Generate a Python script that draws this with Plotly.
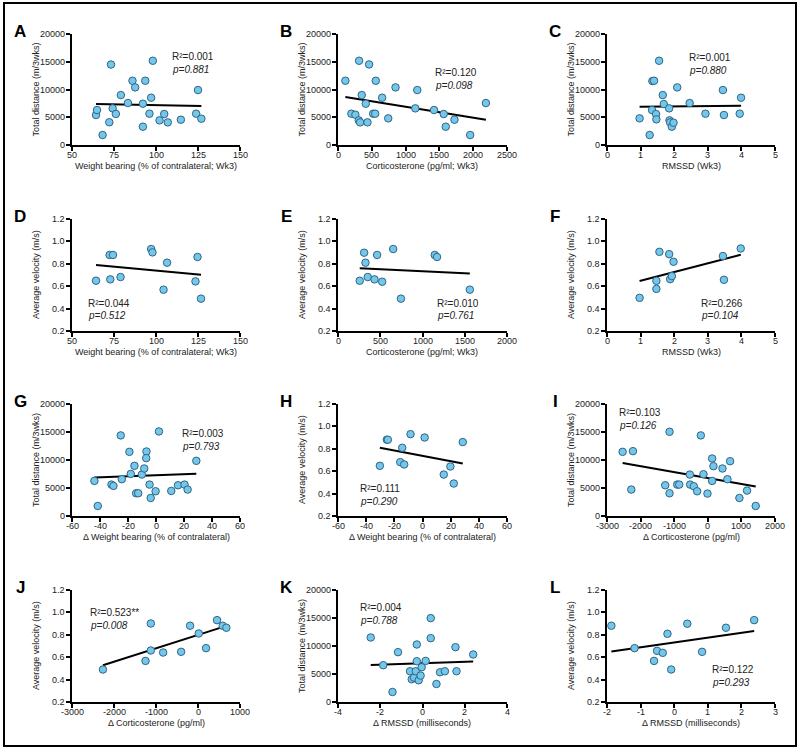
import numpy as np
import plotly.graph_objects as go

W, H = 800, 749

# ---------------- data ----------------
A_x = [64.3, 64.9, 73.2, 72.2, 68.2, 74.2, 76.1, 79.1, 83.3, 86.0, 87.6, 92.2, 93.6, 92.2, 96.1, 97.1, 98.1, 102.1, 104.9, 107.0, 114.8, 123.9, 125.0, 127.0]
A_y = [5400, 6300, 14500, 4100, 1800, 6600, 5600, 9000, 7560, 11580, 10380, 7440, 11580, 3300, 5640, 8520, 15180, 4440, 5580, 4080, 4560, 5640, 9900, 4740]

B_x = [109, 312, 460, 198, 257, 307, 327, 351, 411, 436, 559, 520, 550, 653, 743, 851, 1144, 1173, 1421, 1564, 1594, 1723, 1955, 2188]
B_y = [11580, 15180, 14520, 5640, 5460, 4440, 4080, 9000, 7440, 4080, 11580, 5640, 5640, 8520, 4800, 10380, 6600, 9900, 6300, 5580, 3300, 4560, 1800, 7560]

C_x = [0.97, 1.27, 1.34, 1.35, 1.40, 1.46, 1.47, 1.55, 1.66, 1.69, 1.85, 1.86, 1.88, 1.93, 1.98, 2.09, 2.46, 2.93, 3.45, 3.48, 3.95, 3.99]
C_y = [4800, 1800, 6300, 11520, 11580, 5580, 4620, 15180, 9000, 7380, 6600, 4440, 4080, 3300, 4020, 10380, 7560, 5640, 9900, 5400, 5640, 8520]

D_x = [64.3, 72.4, 74.4, 72.8, 78.9, 97.1, 97.9, 106.6, 104.5, 123.5, 124.7, 126.8]
D_y = [0.649, 0.879, 0.879, 0.661, 0.682, 0.932, 0.902, 0.810, 0.569, 0.643, 0.861, 0.489]

E_x = [257, 309, 325, 352, 432, 463, 523, 653, 745, 1145, 1172, 1560]
E_y = [0.649, 0.899, 0.810, 0.682, 0.661, 0.879, 0.640, 0.932, 0.489, 0.879, 0.861, 0.569]

F_x = [0.97, 1.47, 1.47, 1.56, 1.85, 1.88, 1.93, 1.98, 3.45, 3.48, 3.98]
F_y = [0.496, 0.648, 0.576, 0.907, 0.886, 0.663, 0.690, 0.818, 0.869, 0.657, 0.937]

G_x = [-44.0, -41.6, -25.2, -31.8, -30.4, -24.4, -19.0, -18.0, -15.4, -14.2, -12.7, -10.1, -8.4, -6.8, -7.0, -4.6, -3.8, -0.3, 2.1, 10.9, 15.7, 20.4, 22.6, 28.8]
G_y = [6270, 1790, 14390, 5610, 5370, 6570, 11460, 7520, 8960, 4060, 4060, 7400, 8480, 11520, 10330, 5610, 3220, 4420, 15100, 4480, 5490, 5610, 4720, 9850]

H_x = [-30.3, -25.3, -24.6, -15.8, -14.4, -13.0, -8.5, 1.5, 15.1, 19.8, 22.2, 28.6]
H_y = [0.648, 0.881, 0.881, 0.681, 0.809, 0.660, 0.931, 0.901, 0.570, 0.642, 0.490, 0.860]

I_x = [-2535, -2228, -2277, -1267, -1139, -1139, -911, -851, -535, -525, -416, -317, -208, -129, -10, 129, 129, 168, 436, 584, 663, 941, 1168, 1426]
I_y = [11460, 11580, 4720, 5490, 15040, 4060, 5610, 5610, 7400, 5610, 5310, 4420, 14390, 7460, 4000, 10270, 6270, 8900, 8480, 6570, 9790, 3220, 4540, 1790]

J_x = [-2263, -1250, -1123, -1123, -830, -402, -188, 18, 192, 453, 588, 675]
J_y = [0.490, 0.567, 0.901, 0.660, 0.642, 0.648, 0.881, 0.812, 0.681, 0.931, 0.881, 0.863]

K_x = [-2.45, -1.86, -1.42, -1.16, -0.59, -0.51, -0.40, -0.32, -0.27, -0.27, -0.18, -0.09, -0.04, 0.15, 0.39, 0.39, 0.66, 0.83, 1.06, 1.56, 1.61, 2.40]
K_y = [11520, 6570, 1790, 8900, 5490, 4060, 4360, 5490, 10270, 7280, 3880, 4720, 6210, 7340, 14980, 11400, 3220, 5310, 5490, 9790, 5490, 8480]

L_x = [-1.87, -1.18, -0.60, -0.51, -0.34, -0.20, -0.09, 0.39, 0.83, 1.54, 2.38]
L_y = [0.881, 0.681, 0.567, 0.657, 0.639, 0.809, 0.490, 0.899, 0.648, 0.863, 0.931]

letters = ["A", "B", "C", "D", "E", "F", "G", "H", "I", "J", "K", "L"]
r2_text = ["0.001", "0.120", "0.001", "0.044", "0.010", "0.266", "0.003", "0.111", "0.103", "0.523**", "0.004", "0.122"]
p_text = ["0.881", "0.098", "0.880", "0.512", "0.761", "0.104", "0.793", "0.290", "0.126", "0.008", "0.788", "0.293"]

DIST = "Total distance (m/3wks)"
VEL = "Average velocity (m/s)"
y_titles = [DIST, DIST, DIST, VEL, VEL, VEL, DIST, VEL, DIST, VEL, DIST, VEL]
x_titles = ["Weight bearing (% of contralateral; Wk3)", "Corticosterone (pg/ml; Wk3)", "RMSSD (Wk3)",
            "Weight bearing (% of contralateral; Wk3)", "Corticosterone (pg/ml; Wk3)", "RMSSD (Wk3)",
            "Δ Weight bearing (% of contralateral)", "Δ Weight bearing (% of contralateral)", "Δ Corticosterone (pg/ml)",
            "Δ Corticosterone (pg/ml)", "Δ RMSSD (milliseconds)", "Δ RMSSD (milliseconds)"]
x_ticks = [[50, 75, 100, 125, 150], [0, 500, 1000, 1500, 2000, 2500], [0, 1, 2, 3, 4, 5],
           [50, 75, 100, 125, 150], [0, 500, 1000, 1500, 2000], [0, 1, 2, 3, 4, 5],
           [-60, -40, -20, 0, 20, 40, 60], [-60, -40, -20, 0, 20, 40, 60], [-3000, -2000, -1000, 0, 1000, 2000],
           [-3000, -2000, -1000, 0, 1000], [-4, -2, 0, 2, 4], [-2, -1, 0, 1, 2, 3]]
dist_ticks = [0, 5000, 10000, 15000, 20000]
vel_ticks = [0.2, 0.4, 0.6, 0.8, 1.0, 1.2]

xs = [A_x, B_x, C_x, D_x, E_x, F_x, G_x, H_x, I_x, J_x, K_x, L_x]
ys = [A_y, B_y, C_y, D_y, E_y, F_y, G_y, H_y, I_y, J_y, K_y, L_y]

# ---------------- layout geometry (pixels) ----------------
col_x = [(72, 240), (338, 507), (607, 775)]
row_y = [(34, 145), (219, 331), (404, 516), (590, 702)]
# annotation anchor positions (left x, R2 centre y)
stat_pos = [(170, 56), (433, 72), (687, 57), (86, 303), (435, 303), (699, 303),
            (180, 433), (358, 488), (617, 412), (88, 612), (358, 607), (710, 669)]

FONT = "Arial, Liberation Sans, Helvetica, sans-serif"
FILL = "#74C6EA"
EDGE = "#2F6684"
TXT = "#222222"

def px(x):
    return x / W

def py(y):
    return 1 - y / H

fig = go.Figure()
layout = dict(width=W, height=H, margin=dict(l=0, r=0, t=0, b=0, pad=0, autoexpand=False),
              paper_bgcolor="white", plot_bgcolor="white", showlegend=False,
              template="none", font=dict(family=FONT, color=TXT))
annotations = []

def note(text, x, y, xref="paper", yref="paper", xanchor="center", yanchor="middle", size=9, **kw):
    annotations.append(dict(text=text, x=x, y=y, xref=xref, yref=yref, xanchor=xanchor,
                            yanchor=yanchor, showarrow=False,
                            font=dict(size=size, family=FONT, color=kw.pop("color", TXT)), **kw))

for i in range(12):
    r, c = divmod(i, 3)
    x0, x1 = col_x[c]
    y0, y1 = row_y[r]
    suf = "" if i == 0 else str(i + 1)
    xa, ya = "x" + suf, "y" + suf
    xt = x_ticks[i]
    yt = dist_ticks if y_titles[i] == DIST else vel_ticks
    ytext = [str(v) for v in yt] if y_titles[i] == DIST else ["%.1f" % v for v in yt]
    common = dict(showline=True, linecolor="black", linewidth=1.5, ticks="outside",
                  ticklen=4, tickwidth=1.5, tickcolor="black", showgrid=False, zeroline=False,
                  automargin=False, showticklabels=False, fixedrange=True)
    layout["xaxis" + suf] = dict(domain=[px(x0), px(x1)], anchor=ya, range=[xt[0], xt[-1]],
                                 tickvals=xt, **common)
    layout["yaxis" + suf] = dict(domain=[py(y1), py(y0)], anchor=xa, range=[yt[0], yt[-1]],
                                 tickvals=yt, **common)

    # tick labels placed on the axes' own coordinates
    for v in xt:
        note(str(v), v, py(y1 + 9.5), xref=xa)
    for v, t in zip(yt, ytext):
        note(t, px(x0 - 5), v, yref=ya, xanchor="right")

    x = np.array(xs[i], dtype=float)
    y = np.array(ys[i], dtype=float)
    slope, inter = np.polyfit(x, y, 1)
    lx = np.array([x.min(), x.max()])
    fig.add_trace(go.Scatter(x=lx, y=slope * lx + inter, mode="lines", xaxis=xa, yaxis=ya,
                             line=dict(color="black", width=2), hoverinfo="skip", cliponaxis=False))
    fig.add_trace(go.Scatter(x=x, y=y, mode="markers", xaxis=xa, yaxis=ya, cliponaxis=False,
                             marker=dict(size=7.5, color=FILL, line=dict(color=EDGE, width=1))))

    # panel letter
    note("<b>%s</b>" % letters[i], px(x0 - 52), py(y0 - 3), size=17, color="black")
    # axis titles
    note(x_titles[i], px((x0 + x1) / 2), py(y1 + 20.5))
    note(y_titles[i], px(x0 - 36), py((y0 + y1) / 2), textangle=-90)
    # stats
    sx, sy = stat_pos[i]
    note("R²=" + r2_text[i], px(sx), py(sy), xanchor="left", size=10)
    note("<i>p=" + p_text[i] + "</i>", px(sx), py(sy + 13), xanchor="left", size=10)

layout["annotations"] = annotations
layout["shapes"] = [dict(type="rect", xref="paper", yref="paper", x0=px(4), x1=px(796),
                         y0=py(746), y1=py(3), line=dict(color="black", width=2))]
fig.update_layout(**layout)
fig.write_html("out.html", config={"displayModeBar": False},
               post_script="document.body.style.margin='0';")
